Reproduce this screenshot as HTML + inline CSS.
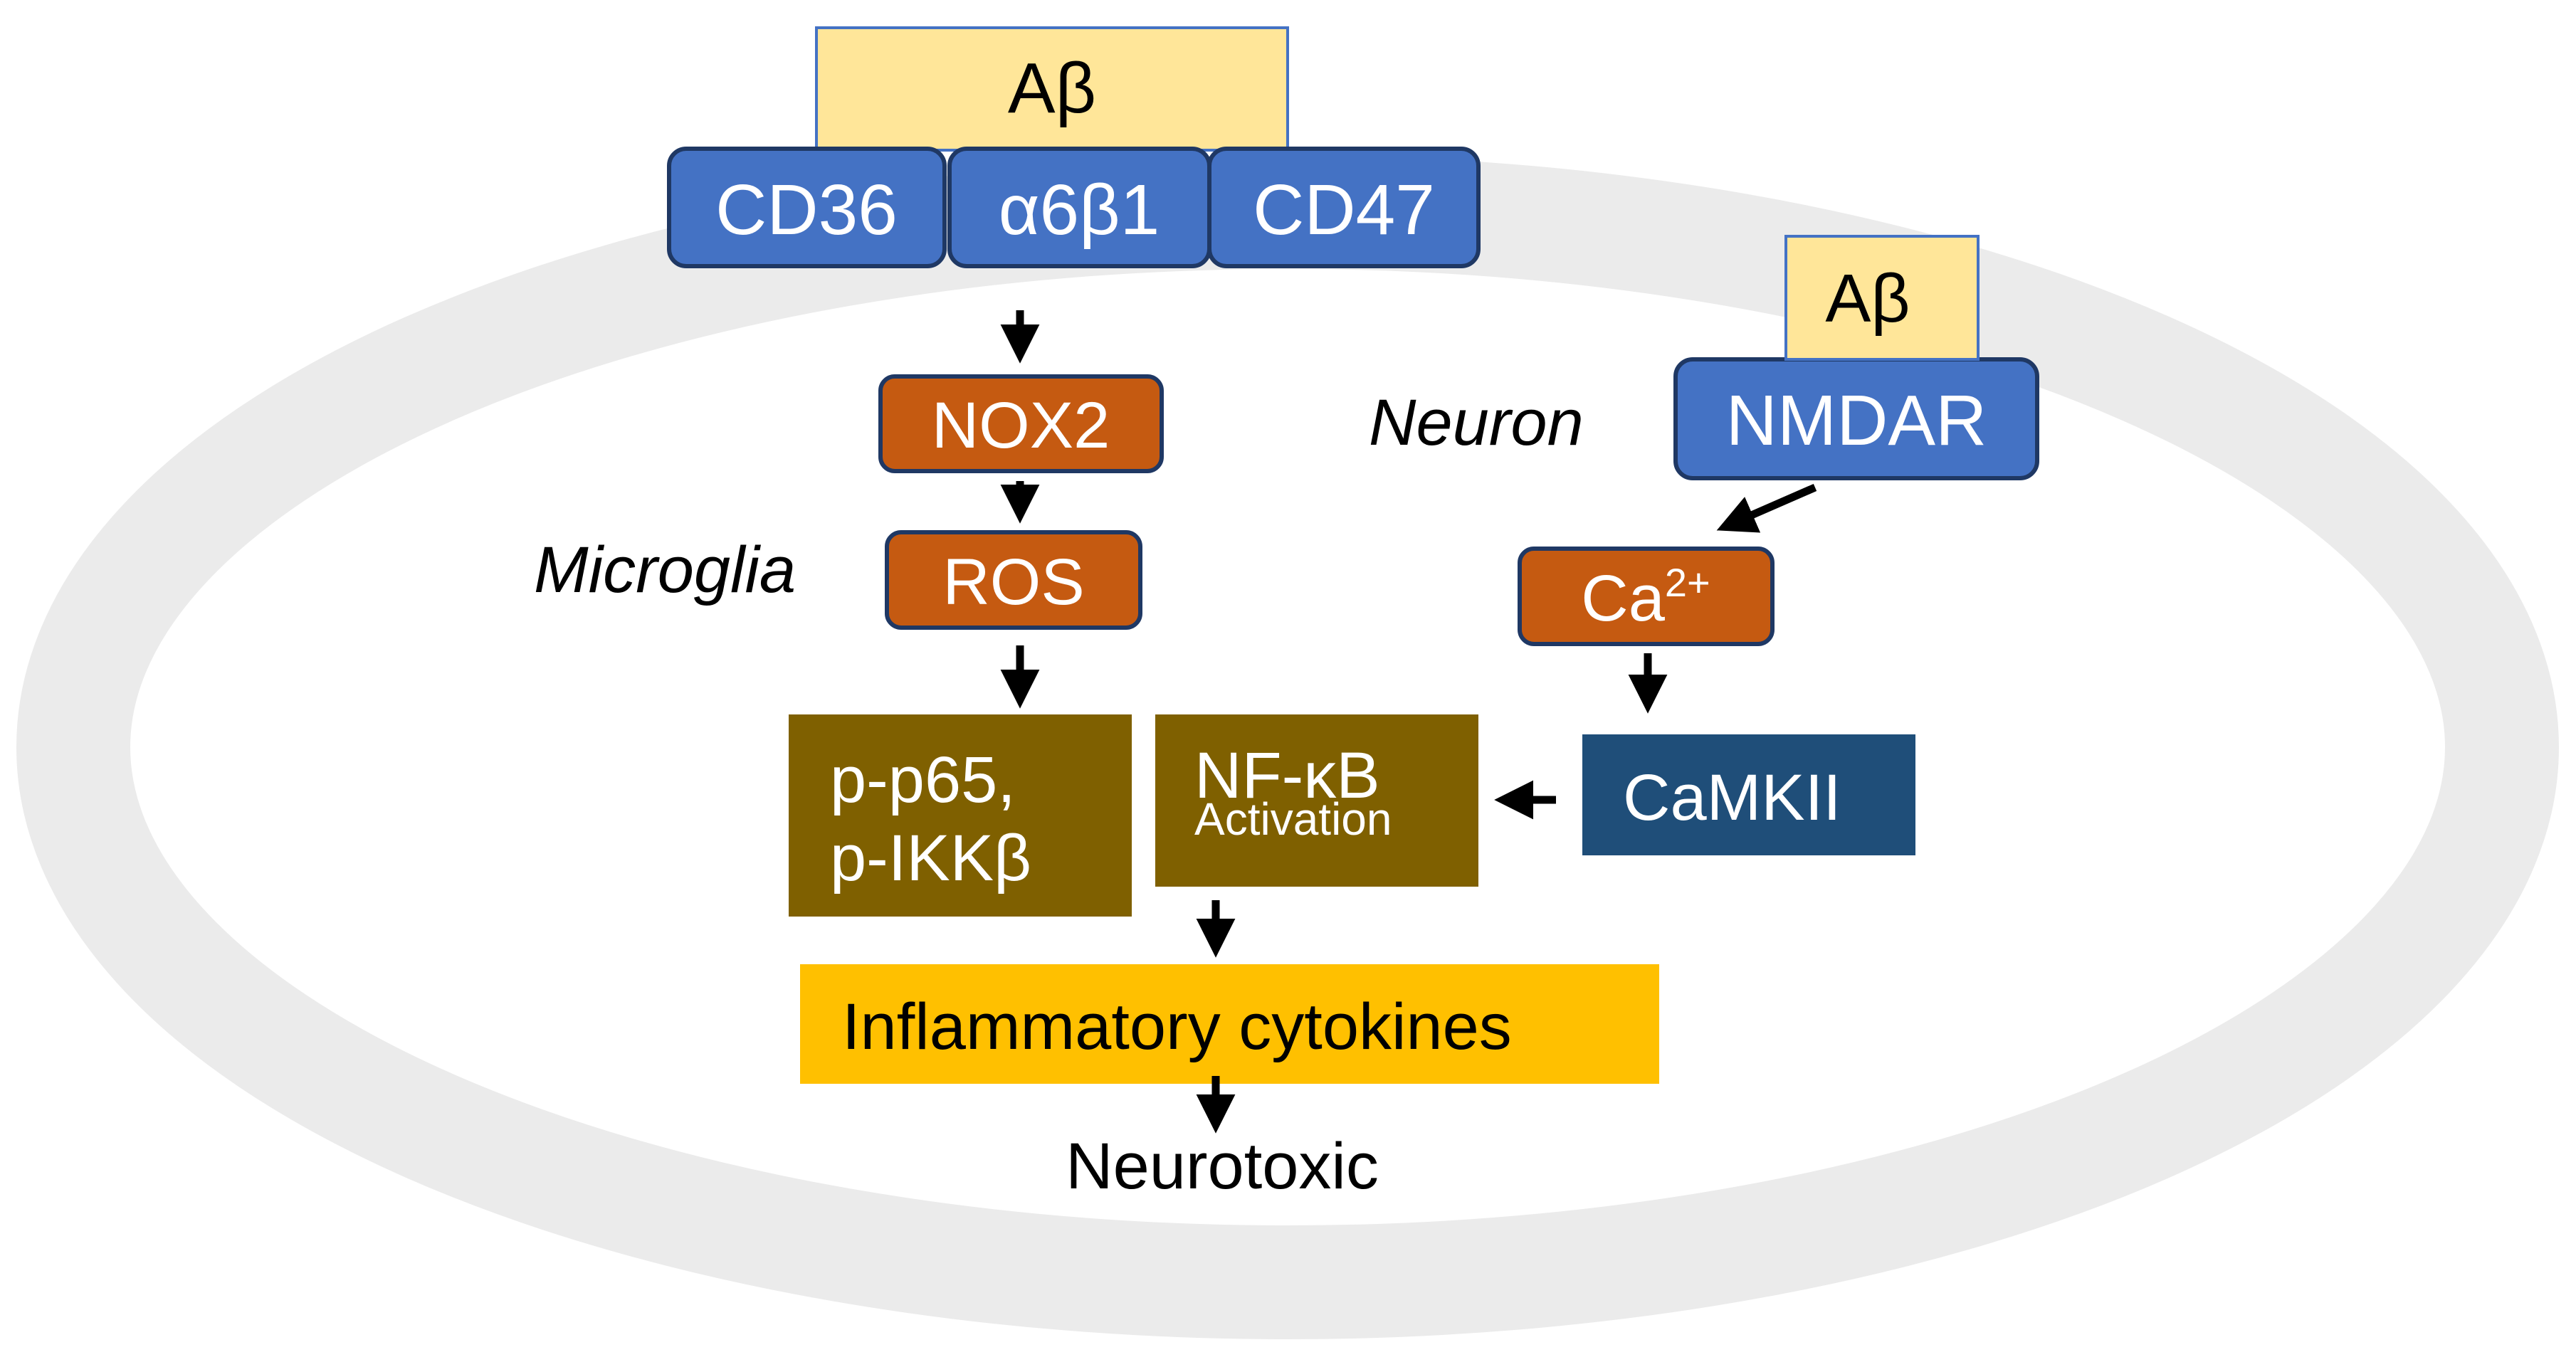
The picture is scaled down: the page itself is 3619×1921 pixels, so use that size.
<!DOCTYPE html>
<html><head><meta charset="utf-8"><style>
html,body{margin:0;padding:0;background:#fff;}
svg{display:block;}
text{font-family:"Liberation Sans",Arial,sans-serif;}
</style></head><body>
<svg width="3619" height="1921" viewBox="0 0 3619 1921" xmlns="http://www.w3.org/2000/svg">
<defs>
<marker id="ah" markerWidth="5" markerHeight="5" refX="2.2" refY="2.5" orient="auto" markerUnits="strokeWidth">
<path d="M0,0 L5,2.5 L0,5 Z" fill="#000"/>
</marker>
</defs>
<ellipse cx="1809" cy="1050" rx="1706" ry="752" fill="none" stroke="#ebebeb" stroke-width="160"/>

<rect x="1147" y="39" width="662" height="172" fill="#ffe699" stroke="#4472c4" stroke-width="4"/>
<text x="1478" y="158" font-size="100" text-anchor="middle" fill="#000">Aβ</text>

<g stroke="#1f3864" stroke-width="6" fill="#4472c4">
<rect x="940" y="209" width="387" height="165" rx="24"/>
<rect x="1334" y="209" width="365" height="165" rx="24"/>
<rect x="1699" y="209" width="378" height="165" rx="24"/>
<rect x="2354" y="505" width="508" height="167" rx="24"/>
</g>
<g fill="#fff" font-size="100" text-anchor="middle">
<text x="1133" y="329">CD36</text>
<text x="1516" y="329">α6β1</text>
<text x="1888" y="329">CD47</text>
<text x="2608" y="625">NMDAR</text>
</g>

<rect x="2509" y="332" width="270" height="173" fill="#ffe699" stroke="#4472c4" stroke-width="4"/>
<text x="2624" y="452" font-size="96" text-anchor="middle" fill="#000">Aβ</text>

<g stroke="#1f3864" stroke-width="6" fill="#c55a11">
<rect x="1237" y="529" width="395" height="133" rx="20"/>
<rect x="1246" y="748" width="356" height="134" rx="20"/>
<rect x="2135" y="771" width="355" height="134" rx="20"/>
</g>
<g fill="#fff" font-size="92" text-anchor="middle">
<text x="1434" y="629">NOX2</text>
<text x="1424" y="849">ROS</text>
<text x="2312" y="872">Ca<tspan font-size="56" dy="-34">2+</tspan></text>
</g>

<text x="750" y="832" font-size="92" font-style="italic" fill="#000">Microglia</text>
<text x="1923" y="625" font-size="92" font-style="italic" fill="#000">Neuron</text>

<rect x="1108" y="1004" width="482" height="284" fill="#7f6000"/>
<rect x="1623" y="1004" width="454" height="242" fill="#7f6000"/>
<rect x="2223" y="1032" width="468" height="170" fill="#1f4e79"/>
<rect x="1124" y="1355" width="1207" height="168" fill="#ffc000"/>

<g fill="#fff">
<text x="1166" y="1127" font-size="92">p-p65,</text>
<text x="1166" y="1237" font-size="92">p-IKKβ</text>
<text x="1678" y="1121" font-size="92">NF-κB</text>
<text x="1678" y="1173" font-size="64">Activation</text>
<text x="2280" y="1152" font-size="92">CaMKII</text>
</g>
<text x="1183" y="1474" font-size="92" fill="#000">Inflammatory cytokines</text>
<text x="1717" y="1670" font-size="92" fill="#000" text-anchor="middle">Neurotoxic</text>

<g stroke="#000" stroke-width="11" marker-end="url(#ah)">
<line x1="1433" y1="436" x2="1433" y2="480"/>
<line x1="1433" y1="676" x2="1433" y2="705"/>
<line x1="1433" y1="907" x2="1433" y2="965"/>
<line x1="2550" y1="685" x2="2440" y2="733"/>
<line x1="2315" y1="918" x2="2315" y2="972"/>
<line x1="2186" y1="1124" x2="2130" y2="1124"/>
<line x1="1708" y1="1265" x2="1708" y2="1315"/>
<line x1="1708" y1="1512" x2="1708" y2="1562"/>
</g>
</svg>
</body></html>
